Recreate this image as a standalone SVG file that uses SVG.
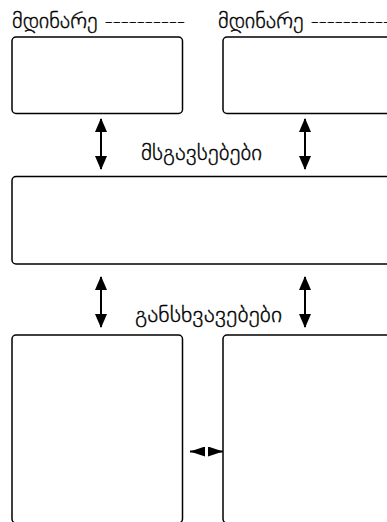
<svg xmlns="http://www.w3.org/2000/svg" width="387" height="522" viewBox="0 0 387 522">
<style>
.box{fill:#fff;stroke:#000;stroke-width:1.5}
.lbl{font-family:"DejaVu Sans",sans-serif;font-size:21px;font-weight:200;fill:#000;stroke:#000;stroke-width:0.35}
.con{stroke:#000;stroke-width:2;fill:none}
</style>
<defs>
<marker id="ah" viewBox="0 0 14 12" refX="13" refY="6" markerWidth="14" markerHeight="12" orient="auto-start-reverse" markerUnits="userSpaceOnUse">
<path d="M0,0 L14,6 L0,12 z" fill="#000"/>
</marker>
<marker id="ahs" viewBox="0 0 15 10" refX="15" refY="5" markerWidth="15" markerHeight="10" orient="auto-start-reverse" markerUnits="userSpaceOnUse">
<path d="M0,0 L15,5 L0,10 z" fill="#000"/>
</marker>
</defs>
<rect width="387" height="522" fill="#fff"/>
<g id="label1"><text class="lbl" x="12" y="28" textLength="173" lengthAdjust="spacingAndGlyphs">მდინარე ----------</text></g>
<g id="label2"><text class="lbl" x="218" y="28" textLength="173" lengthAdjust="spacingAndGlyphs">მდინარე ----------</text></g>
<g id="box1"><rect class="box" x="12" y="37" width="170.5" height="76.5" rx="4"/></g>
<g id="box2"><rect class="box" x="223" y="37" width="180" height="76.5" rx="4"/></g>
<g id="box3"><rect class="box" x="12" y="176.5" width="391" height="87.5" rx="4"/></g>
<g id="box4"><rect class="box" x="12" y="335" width="170.5" height="188" rx="4"/></g>
<g id="box5"><rect class="box" x="223" y="335" width="180" height="188" rx="4"/></g>
<g id="label3"><text class="lbl" x="141" y="160" textLength="121" lengthAdjust="spacingAndGlyphs">მსგავსებები</text></g>
<g id="label4"><text class="lbl" x="135" y="322" textLength="147" lengthAdjust="spacingAndGlyphs">განსხვავებები</text></g>
<g id="connectors">
<line class="con" x1="101" y1="119" x2="101" y2="169" marker-start="url(#ah)" marker-end="url(#ah)"/>
<line class="con" x1="305" y1="119" x2="305" y2="169" marker-start="url(#ah)" marker-end="url(#ah)"/>
<line class="con" x1="101" y1="277" x2="101" y2="327" marker-start="url(#ah)" marker-end="url(#ah)"/>
<line class="con" x1="305" y1="277" x2="305" y2="327" marker-start="url(#ah)" marker-end="url(#ah)"/>
<line class="con" x1="190" y1="451.5" x2="223" y2="451.5" stroke-dasharray="15 3 15" marker-start="url(#ahs)" marker-end="url(#ahs)"/>
</g>
</svg>
